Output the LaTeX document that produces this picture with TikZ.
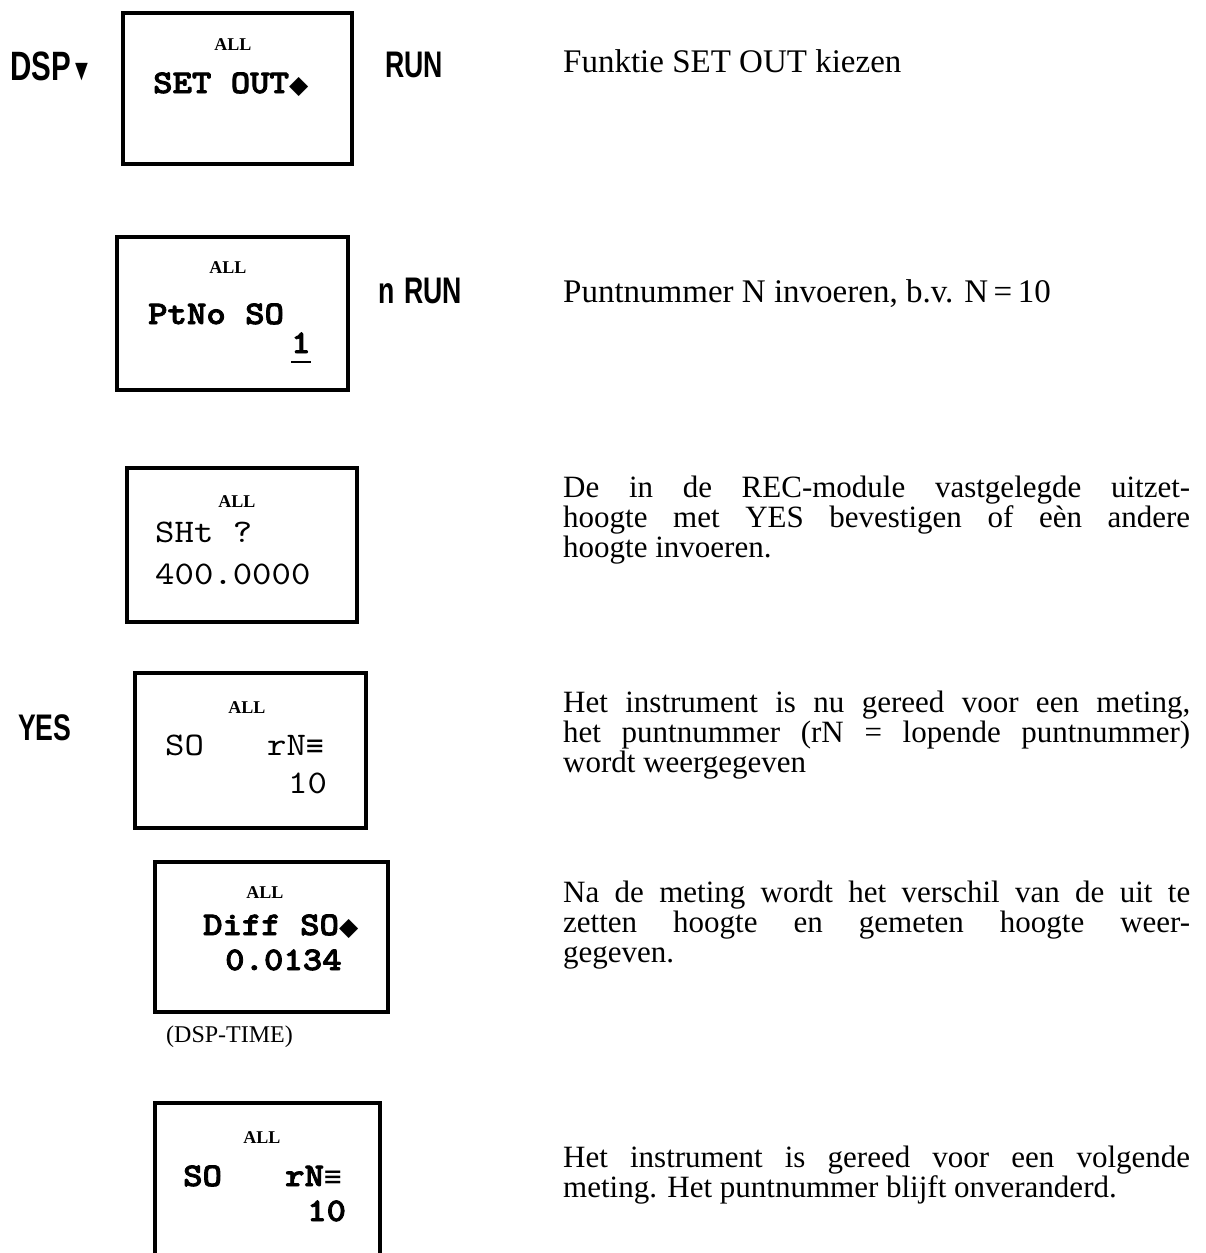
\documentclass[tikz,border=0pt]{standalone}
\usepackage{fontspec}
\setmainfont{Liberation Serif}
\newfontfamily\keyfont[FakeStretch=0.72]{Liberation Sans}
\newfontfamily\allfont{Liberation Serif}
\newfontfamily\symfont{DejaVu Sans}
\newfontfamily\symmono{DejaVu Sans Mono}
\newfontfamily\lcdrm[FakeStretch=1.12]{lmmono10-regular.otf}
\newfontfamily\lcdbf[FakeStretch=1.12,FakeBold=2.5]{lmmonolt10-bold.otf}
\newcommand\jline[1]{\makebox[627pt][s]{#1}}
\newcommand\dia{{\symfont\fontsize{25pt}{25pt}\selectfont ◆}}
\newcommand\tribar{{\symmono\fontsize{29pt}{29pt}\selectfont ≡}}
\begin{document}
\begin{tikzpicture}[x=1pt,y=-1pt,
  screen/.style={draw, line width=3.5pt, inner sep=0pt},
  keylab/.style={font=\keyfont\bfseries\fontsize{37pt}{37pt}\selectfont, anchor=base west, inner sep=0pt},
  lcd/.style={font=\lcdrm\fontsize{33pt}{33pt}\selectfont, anchor=base west, inner sep=0pt},
  lcdb/.style={font=\lcdbf\fontsize{33pt}{33pt}\selectfont, anchor=base west, inner sep=0pt},
  alllab/.style={font=\allfont\bfseries\fontsize{18pt}{18pt}\selectfont, inner sep=0pt},
  desc/.style={font=\fontsize{31pt}{31pt}\selectfont, anchor=base west, inner sep=0pt},
  desctop/.style={font=\fontsize{33pt}{33pt}\selectfont, anchor=base west, inner sep=0pt},
  note/.style={font=\fontsize{24pt}{24pt}\selectfont, anchor=base west, inner sep=0pt}]
\useasboundingbox (0,0) rectangle (1205,1253);
\fill[white] (0,0) rectangle (1205,1253);

% key labels
\node[keylab, font=\keyfont\bfseries\fontsize{41pt}{41pt}\selectfont] (dsp) at (10,80) {DSP{\fontsize{30pt}{30pt}\selectfont ▼}};
\node[keylab] (run1) at (385,77) {RUN};
\node[keylab] (run2) at (378,303) {n\hspace{10pt}RUN};
\node[keylab] (yes) at (18,740) {YES};

% screens
\node[screen, minimum width=229pt, minimum height=151pt] (b1) at (237.5,88.5) {};
\node[screen, minimum width=231pt, minimum height=153pt] (b2) at (232.5,313.5) {};
\node[screen, minimum width=230pt, minimum height=154pt] (b3) at (242,545) {};
\node[screen, minimum width=231pt, minimum height=155pt] (b4) at (250.5,750.5) {};
\node[screen, minimum width=233pt, minimum height=150pt] (b5) at (271.5,937) {};
\node[screen, minimum width=225pt, minimum height=172pt] (b6) at (267.5,1189) {};

% screen 1
\node[alllab] (a1) at (233,45) {ALL};
\node[lcdb] (t1) at (153,93) {SET OUT\dia};
% screen 2
\node[alllab] (a2) at (228,268) {ALL};
\node[lcdb] (t2) at (148,324) {PtNo SO};
\node[lcdb] (one) at (291,353) {1};
\draw[line width=2pt] ([yshift=-9pt]one.base west) -- ([yshift=-9pt]one.base east);
% screen 3
\node[alllab] (a3) at (237,502) {ALL};
\node[lcd] (t3a) at (155,542) {SHt ?};
\node[lcd] (t3b) at (155,584) {400.0000};
% screen 4
\node[alllab] (a4) at (247,708) {ALL};
\node[lcd] (t4a) at (165,755) {SO};
\node[lcd] (t4b) at (267,755) {rN\tribar};
\node[lcd] (t4c) at (288,793) {10};
% screen 5
\node[alllab] (a5) at (265,893) {ALL};
\node[lcdb] (t5a) at (203,935) {Diff SO\dia};
\node[lcdb] (t5b) at (225,970) {0.0134};
\node[note] (dt) at (166,1042) {(DSP-TIME)};
% screen 6
\node[alllab] (a6) at (262,1138) {ALL};
\node[lcdb] (t6a) at (183,1186) {SO};
\node[lcdb] (t6b) at (285,1186) {rN\tribar};
\node[lcdb] (t6c) at (307,1221) {10};

% descriptions
\node[desctop] (d1) at (563,72) {Funktie SET OUT kiezen};
\node[desctop] (d2) at (563,302) {Puntnummer N invoeren, b.v. N\,=\,10};
\node[desc] (d3a) at (563,497) {\jline{De in de REC-module vastgelegde uitzet-}};
\node[desc] (d3b) at (563,527) {\jline{hoogte met YES bevestigen of eèn andere}};
\node[desc] (d3c) at (563,557) {hoogte invoeren.};
\node[desc] (d4a) at (563,712) {\jline{Het instrument is nu gereed voor een meting,}};
\node[desc] (d4b) at (563,742) {\jline{het puntnummer (rN = lopende puntnummer)}};
\node[desc] (d4c) at (563,772) {wordt weergegeven};
\node[desc] (d5a) at (563,902) {\jline{Na de meting wordt het verschil van de uit te}};
\node[desc] (d5b) at (563,932) {\jline{zetten hoogte en gemeten hoogte weer-}};
\node[desc] (d5c) at (563,962) {gegeven.};
\node[desc] (d6a) at (563,1167) {\jline{Het instrument is gereed voor een volgende}};
\node[desc] (d6b) at (563,1197) {meting. Het puntnummer blijft onveranderd.};
\end{tikzpicture}
\end{document}
